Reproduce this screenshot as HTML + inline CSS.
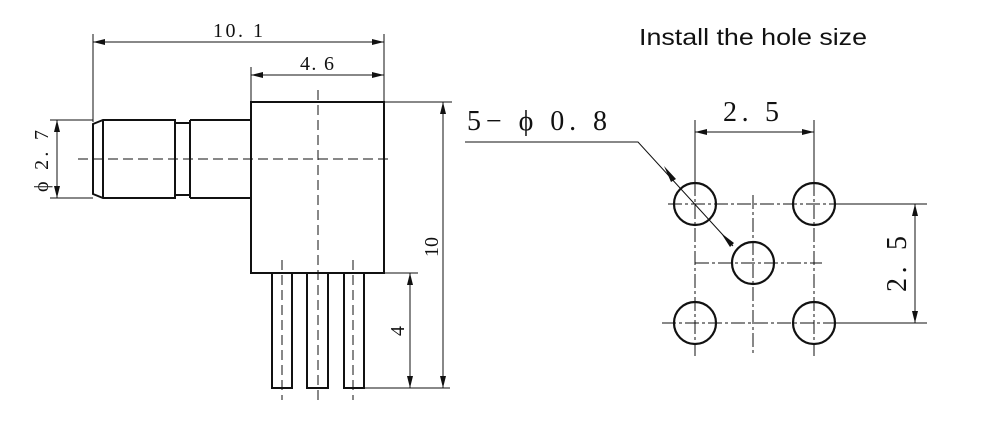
<!DOCTYPE html>
<html><head><meta charset="utf-8"><style>
html,body{margin:0;padding:0;background:#fff;}
svg{display:block;}
.t{font-family:"Liberation Serif",serif;fill:#111;}
</style></head><body>
<svg width="1000" height="423" viewBox="0 0 1000 423" xmlns="http://www.w3.org/2000/svg">
<defs>
<marker id="a" viewBox="0 0 12 6" refX="12" refY="3" markerWidth="12" markerHeight="6" orient="auto-start-reverse" markerUnits="userSpaceOnUse"><path d="M0,0 L12,3 L0,6 Z" fill="#111"/></marker>
</defs>
<g stroke="#111" fill="none" stroke-width="1">
<line x1="93" y1="34" x2="93" y2="122"/>
<line x1="384" y1="34" x2="384" y2="102"/>
<line x1="93" y1="42" x2="384" y2="42" marker-start="url(#a)" marker-end="url(#a)"/>
<line x1="251" y1="67" x2="251" y2="102"/>
<line x1="251" y1="75" x2="384" y2="75" marker-start="url(#a)" marker-end="url(#a)"/>
<line x1="50" y1="120" x2="93" y2="120"/>
<line x1="50" y1="198" x2="93" y2="198"/>
<line x1="57" y1="120" x2="57" y2="198" marker-start="url(#a)" marker-end="url(#a)"/>
<line x1="384" y1="102" x2="452" y2="102"/>
<line x1="443" y1="102" x2="443" y2="388" marker-start="url(#a)" marker-end="url(#a)"/>
<line x1="384" y1="273" x2="418" y2="273"/>
<line x1="364" y1="388" x2="450" y2="388"/>
<line x1="410" y1="273" x2="410" y2="388" marker-start="url(#a)" marker-end="url(#a)"/>
</g>
<g stroke="#111" fill="none" stroke-width="2">
<rect x="251" y="102" width="133" height="171"/>
<path d="M251,120 H190 M251,198 H190"/>
<path d="M103,120 H175 V198 H103 L93,194 V124 Z"/>
<line x1="103" y1="120" x2="103" y2="198"/>
<path d="M175,123 H190 M175,195 H190"/>
<line x1="190" y1="120" x2="190" y2="198"/>
<rect x="272" y="273" width="20" height="115"/>
<rect x="307" y="273" width="21" height="115"/>
<rect x="344" y="273" width="20" height="115"/>
</g>
<g stroke="#111" fill="none" stroke-width="1" stroke-dasharray="10,5">
<line x1="78" y1="159" x2="392" y2="159"/>
<line x1="318" y1="90" x2="318" y2="400"/>
<line x1="282" y1="260" x2="282" y2="400"/>
<line x1="353" y1="260" x2="353" y2="400"/>
</g>
<text class="t" font-size="20" x="213" y="37" textLength="50" lengthAdjust="spacing">10. 1</text>
<text class="t" font-size="20" x="300" y="70" textLength="34" lengthAdjust="spacing">4. 6</text>
<text class="t" font-size="20" transform="translate(48,192) rotate(-90)" textLength="62" lengthAdjust="spacing">ϕ 2. 7</text>
<text class="t" font-size="20" transform="translate(438,257) rotate(-90)">10</text>
<text class="t" font-size="20" transform="translate(404,336) rotate(-90)">4</text>

<text x="639" y="45" font-family="Liberation Sans, sans-serif" font-size="23" fill="#111" textLength="228" lengthAdjust="spacingAndGlyphs">Install the hole size</text>
<text class="t" font-size="28" x="467" y="130" textLength="140" lengthAdjust="spacing">5− ϕ 0. 8</text>
<text class="t" font-size="28" x="723" y="121" textLength="56" lengthAdjust="spacing">2. 5</text>
<text class="t" font-size="28" transform="translate(906,292) rotate(-90)" textLength="56" lengthAdjust="spacing">2. 5</text>
<g stroke="#111" fill="none" stroke-width="1">
<line x1="695" y1="120" x2="695" y2="182"/>
<line x1="814" y1="120" x2="814" y2="182"/>
<line x1="695" y1="132" x2="814" y2="132" marker-start="url(#a)" marker-end="url(#a)"/>
<line x1="836" y1="204" x2="927" y2="204"/>
<line x1="836" y1="323" x2="927" y2="323"/>
<line x1="915" y1="204" x2="915" y2="323" marker-start="url(#a)" marker-end="url(#a)"/>
<polyline points="465,142 638,142 733,246"/>
</g>
<path d="M664,166 L676,179 L671,182 Z M721,233 L730,247 L734,243 Z" fill="#111"/>
<g stroke="#111" fill="none" stroke-width="1" stroke-dasharray="14,3,3,3">
<line x1="668" y1="204" x2="845" y2="204"/>
<line x1="695" y1="263" x2="822" y2="263"/>
<line x1="662" y1="323" x2="845" y2="323"/>
<line x1="695" y1="182" x2="695" y2="356"/>
<line x1="753" y1="195" x2="753" y2="355"/>
<line x1="814" y1="182" x2="814" y2="356"/>
</g>
<g stroke="#111" fill="none" stroke-width="2.2">
<circle cx="695" cy="204" r="21"/>
<circle cx="814" cy="204" r="21"/>
<circle cx="753" cy="263" r="21"/>
<circle cx="695" cy="323" r="21"/>
<circle cx="814" cy="323" r="21"/>
</g>
</svg>
</body></html>
